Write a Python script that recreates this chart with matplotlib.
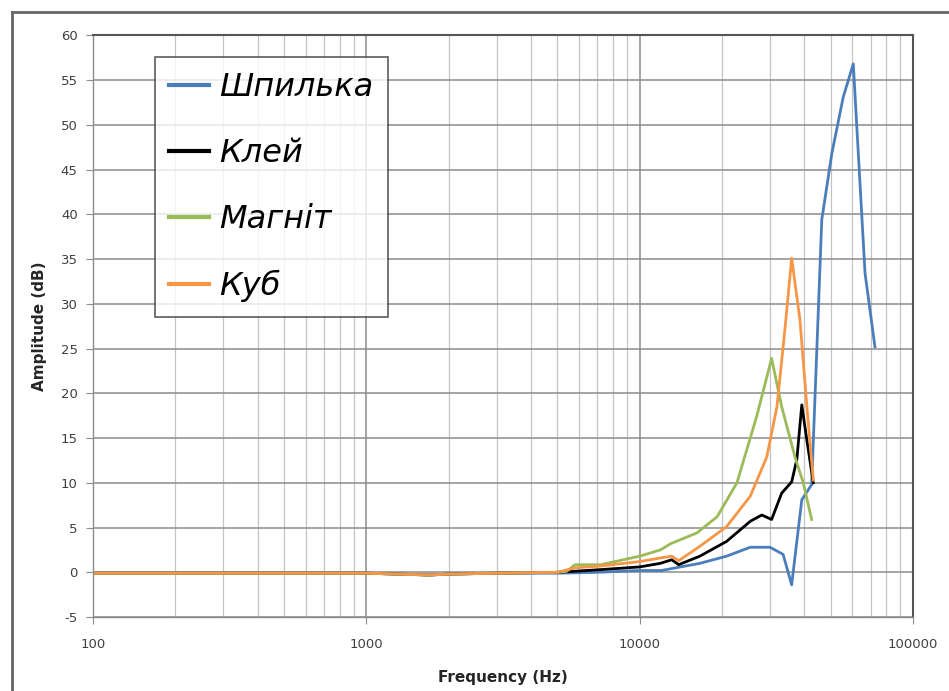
import numpy as np
import matplotlib
matplotlib.use("Agg")
import matplotlib.pyplot as plt
from matplotlib.ticker import FixedLocator, LogLocator, NullFormatter

plt.rcParams['axes.unicode_minus'] = False

# series (frequency in Hz, amplitude in dB)
freq_shpylka = [100, 200, 500, 1000, 1700, 2000, 3000, 5000, 7000, 10000, 12000,
                16600, 20800, 25400, 30000, 33500, 36000, 39200, 42600, 46400,
                50500, 55600, 60500, 66800, 72600]
amp_shpylka = [-0.1, -0.1, -0.1, -0.1, -0.3, -0.2, -0.1, -0.1, 0.0, 0.2, 0.2,
               1.0, 1.8, 2.8, 2.8, 2.0, -1.4, 8.1, 9.8, 39.4,
               46.8, 53.1, 56.8, 33.4, 25.2]

freq_klei = [100, 200, 500, 1000, 1700, 2000, 3000, 5000, 7200, 10000, 11900,
             13100, 13900, 16600, 20800, 25400, 28000, 30400, 33100, 36000,
             37600, 39200, 40900, 43200]
amp_klei = [-0.1, -0.1, -0.1, -0.1, -0.3, -0.2, -0.1, 0.0, 0.3, 0.6, 1.0,
            1.4, 0.85, 1.8, 3.45, 5.7, 6.4, 5.9, 8.85, 10.1,
            12.6, 18.7, 14.8, 10.0]

freq_magnit = [100, 200, 500, 1000, 1700, 2000, 3000, 5000, 5400, 5800, 7200,
               10000, 11900, 13000, 16200, 19200, 22700, 26800, 30400, 33100,
               37000, 39700, 42600]
amp_magnit = [-0.1, -0.1, -0.1, -0.1, -0.3, -0.2, -0.1, 0.0, 0.1, 0.85, 0.85,
              1.8, 2.5, 3.2, 4.4, 6.2, 10.0, 17.4, 23.9, 18.5,
              12.9, 10.0, 5.9]

freq_kub = [100, 200, 500, 1000, 1700, 2000, 3000, 5000, 5800, 7200, 10000,
            11900, 13100, 13900, 16600, 20800, 25400, 29200, 31800, 34000,
            36000, 38600, 41100, 43200]
amp_kub = [-0.1, -0.1, -0.1, -0.1, -0.3, -0.2, -0.1, 0.0, 0.5, 0.7, 1.2,
           1.6, 1.8, 1.3, 2.9, 5.1, 8.5, 12.9, 18.5, 27.1,
           35.1, 28.2, 17.8, 10.3]

labels = ['Шпилька', 'Клей', 'Магніт', 'Куб']
colors = ['#4A7EBB', '#000000', '#9BBB59', '#F79646']
y_ticks = [-5, 0, 5, 10, 15, 20, 25, 30, 35, 40, 45, 50, 55, 60]
x_ticks = [100, 1000, 10000, 100000]

fig = plt.figure(figsize=(9.49, 6.91), dpi=100)
ax = fig.add_axes([0.098, 0.107, 0.864, 0.842])

series = [(freq_shpylka, amp_shpylka), (freq_klei, amp_klei),
          (freq_magnit, amp_magnit), (freq_kub, amp_kub)]
for (f, a), lab, c in zip(series, labels, colors):
    ax.plot(f, a, color=c, lw=2.0, label=lab, solid_joinstyle='round')

ax.set_xscale('log')
ax.set_xlim(100, 100000)
ax.set_ylim(-5, 60)
ax.yaxis.set_major_locator(FixedLocator(y_ticks))
ax.xaxis.set_major_locator(FixedLocator(x_ticks))
ax.xaxis.set_major_formatter(plt.FuncFormatter(lambda v, p: f'{int(v)}'))
ax.xaxis.set_minor_locator(LogLocator(base=10, subs=np.arange(2, 10)))
ax.xaxis.set_minor_formatter(NullFormatter())

ax.grid(True, which='major', color='#8c8c8c', lw=1.1)
ax.grid(True, which='minor', axis='x', color='#c4c4c4', lw=0.9)
ax.set_axisbelow(True)

for s in ['top', 'right']:
    ax.spines[s].set_color('#555555')
    ax.spines[s].set_linewidth(1.5)
for s in ['left', 'bottom']:
    ax.spines[s].set_color('#8c8c8c')
    ax.spines[s].set_linewidth(1.0)

ax.tick_params(axis='both', which='major', labelsize=9.5, colors='#8c8c8c',
               labelcolor='#404040', length=5, pad=6)
ax.tick_params(axis='x', which='minor', length=0)
ax.tick_params(axis='x', which='major', length=5, pad=10)

ax.set_xlabel('Frequency (Hz)', fontsize=11, fontweight='bold', color='#262626', labelpad=14)
ax.set_ylabel('Amplitude (dB)', fontsize=11, fontweight='bold', color='#262626', labelpad=10)

leg = ax.legend(loc='upper left', bbox_to_anchor=(0.0756, 0.962),
                prop={'style': 'italic', 'size': 23}, frameon=True, fancybox=False,
                edgecolor='#333333', handlelength=1.25, handletextpad=0.3,
                labelspacing=1.1, borderpad=0.45, borderaxespad=0)
leg.get_frame().set_linewidth(1.2)
for line in leg.get_lines():
    line.set_linewidth(3)

# outer frame of the chart area
fig.add_artist(plt.Line2D([12 / 949, 12 / 949], [0, 1 - 12 / 691], transform=fig.transFigure,
                          color='#666666', lw=2))
fig.add_artist(plt.Line2D([12 / 949, 1], [1 - 12 / 691, 1 - 12 / 691], transform=fig.transFigure,
                          color='#666666', lw=2))

fig.savefig('out.png', dpi=100)
